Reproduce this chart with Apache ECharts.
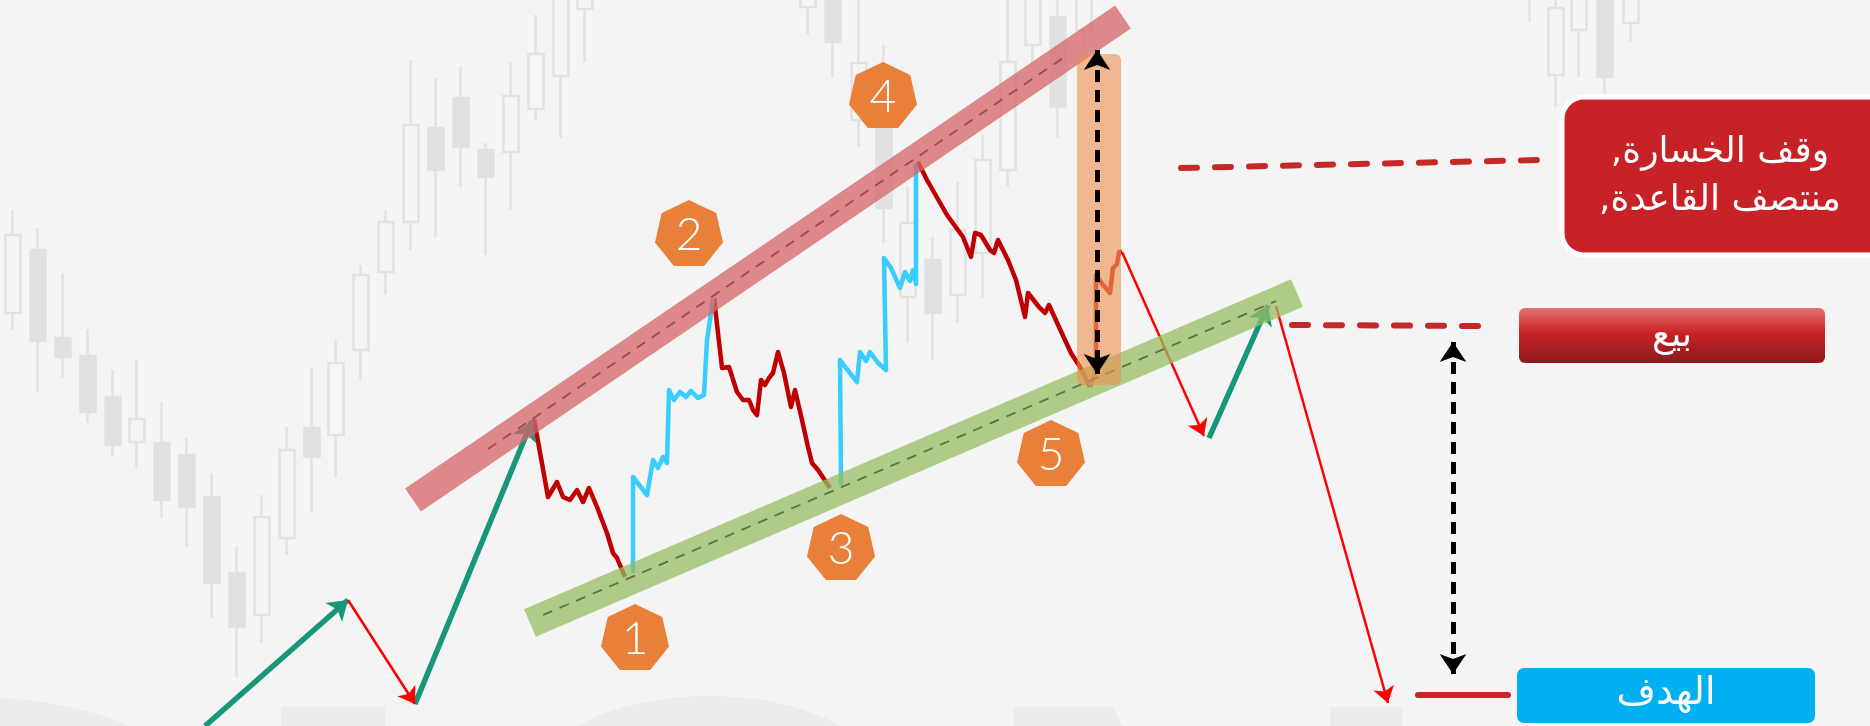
<!DOCTYPE html>
<html>
<head>
<meta charset="utf-8">
<title>نموذج القاعدة المتسعة</title>
<script src="https://cdn.jsdelivr.net/npm/echarts@6/dist/echarts.min.js"></script>
<style>
html, body { margin: 0; padding: 0; background: #f4f4f4; }
#chart { width: 1870px; height: 726px; }
</style>
</head>
<body>
<div id="chart"></div>
<script>
// شموع الخلفية: [x, open, close, low, high] (المحور الرأسي معكوس)
var bgCandles = [
    [13, 313, 235, 210, 330], [38, 250, 341, 228, 392], [63, 338, 357, 273, 378],
    [88, 356, 412, 329, 423], [113, 397, 445, 370, 456], [137, 442, 419, 360, 468],
    [162, 443, 500, 402, 518], [187, 455, 507, 438, 547], [212, 497, 583, 473, 618],
    [237, 573, 627, 547, 677], [262, 615, 517, 495, 643], [287, 538, 450, 427, 555],
    [312, 428, 457, 368, 512], [336, 435, 363, 340, 477], [361, 350, 275, 265, 380],
    [386, 272, 222, 210, 295], [411, 222, 125, 60, 250], [436, 128, 170, 78, 237],
    [461, 98, 147, 67, 187], [486, 150, 177, 143, 255], [511, 152, 96, 62, 210],
    [536, 109, 54, 15, 120], [561, 76, -10, -20, 138], [585, 9, -10, -20, 62],
    [808, 7, -10, -20, 35], [833, -10, 42, -20, 77], [859, 120, 63, -20, 147],
    [884, 127, 208, 45, 243], [908, 297, 223, 187, 343], [933, 260, 313, 237, 360],
    [958, 295, 230, 182, 323], [983, 253, 160, 135, 297], [1008, 170, 62, -20, 187],
    [1033, 45, -10, -20, 62], [1058, 17, 107, -20, 137], [1084, 30, -10, -20, 45],
    [1530, -5, -15, -20, 22], [1556, 75, 8, -20, 107], [1579, 30, -10, -20, 77],
    [1605, -10, 77, -20, 93], [1631, 23, -10, -20, 42]
];

// موجات النموذج
var waveDown1 = [[534, 419], [548, 497], [557, 482], [563, 497], [570, 500], [577, 490], [583, 502], [589, 488], [597, 507], [607, 533], [613, 553], [617, 558], [625, 577]];
var waveUp1 = [[633, 573], [633, 477], [647, 495], [653, 460], [658, 468], [663, 457], [667, 463], [669, 390], [674, 400], [680, 392], [686, 397], [691, 391], [698, 398], [704, 395], [707, 340], [710, 320], [713, 298]];
var waveDown2 = [[714, 298], [722, 368], [729, 367], [737, 392], [743, 400], [749, 400], [753, 410], [757, 415], [761, 380], [765, 385], [769, 378], [773, 373], [778, 352], [784, 373], [791, 407], [795, 390], [802, 420], [808, 447], [812, 463], [818, 470], [830, 488]];
var waveUp2 = [[841, 485], [840, 360], [846, 368], [857, 382], [860, 352], [866, 361], [870, 352], [878, 363], [886, 370], [884, 258], [891, 268], [900, 288], [905, 272], [910, 281], [913, 270], [916, 284], [916, 164]];
var waveDown3 = [[918, 162], [927, 180], [947, 215], [963, 237], [971, 257], [975, 233], [981, 235], [990, 250], [994, 253], [998, 240], [1008, 260], [1016, 280], [1025, 317], [1028, 293], [1039, 307], [1045, 313], [1049, 305], [1059, 327], [1071, 353], [1080, 367], [1090, 387]];
var waveRetest = [[1090, 387], [1096, 370], [1096, 275], [1103, 285], [1110, 293], [1113, 268], [1117, 264], [1119, 252], [1122, 252]];

// أسهم الاتجاه
var tealLegs = [
    [[205, 726], [348, 600]],
    [[415, 704], [532, 421]],
    [[1209, 438], [1268, 305]]
];
var redLegs = [
    [[348, 600], [415, 704]],
    [[1122, 252], [1204, 436]],
    [[1276, 306], [1388, 703]]
];

// خطوط القناة
var upperBand = [[413, 500], [1123, 17]];
var upperMid = [[488, 449], [1066, 56]];
var lowerBand = [[530, 623], [1297, 293]];
var lowerMid = [[543, 615], [1276, 301]];

// منطقة وقف الخسارة والأسهم المزدوجة
var stopZone = [1077, 54, 1121, 385];
var rangeArrows = [
    [[1097, 50], [1097, 374]],
    [[1453, 342], [1453, 674]]
];

// المستويات
var stopLevel = [[1181, 168], [1538, 160]];
var sellLevel = [[1292, 325], [1482, 326]];
var targetLevel = [[1418, 695], [1508, 695]];

// نقاط الملامسة
var touchPoints = [
    [635, 637, '1'], [689, 233, '2'], [841, 547, '3'], [883, 95, '4'], [1051, 453, '5']
];

function heptagonPath() {
    var parts = [];
    for (var k = 0; k < 7; k++) {
        var a = k * 2 * Math.PI / 7;
        parts.push((k === 0 ? 'M' : 'L') + (Math.sin(a) * 100).toFixed(2) + ' ' + (-Math.cos(a) * 100).toFixed(2));
    }
    return 'path://' + parts.join(' ') + ' Z';
}

function segs(list) {
    return list.map(function (c) { return { coords: c }; });
}

var chart = echarts.init(document.getElementById('chart'));

var option = {
    backgroundColor: '#f4f4f4',
    animation: false,
    grid: { left: 0, right: 0, top: 0, bottom: 0 },
    xAxis: { type: 'value', min: 0, max: 1870, show: false },
    yAxis: { type: 'value', min: 0, max: 726, inverse: true, show: false },
    graphic: [
        // علامة مائية باهتة أسفل الصورة
        { type: 'ellipse', z: -10, silent: true, shape: { cx: -30, cy: 800, rx: 230, ry: 103 }, style: { fill: '#ebebeb' } },
        { type: 'rect', z: -10, silent: true, shape: { x: 281, y: 707, width: 104, height: 25 }, style: { fill: '#ebebeb' } },
        { type: 'ellipse', z: -10, silent: true, shape: { cx: 709, cy: 800, rx: 188, ry: 104 }, style: { fill: '#ebebeb' } },
        { type: 'polygon', z: -10, silent: true, shape: { points: [[1014, 707], [1112, 707], [1125, 730], [1014, 730]] }, style: { fill: '#ebebeb' } },
        { type: 'rect', z: -10, silent: true, shape: { x: 1330, y: 707, width: 72, height: 25 }, style: { fill: '#ebebeb' } },

        // صندوق وقف الخسارة
        {
            type: 'rect', z: 100, shape: { x: 1562, y: 97, width: 330, height: 158, r: 22 },
            style: { fill: '#c62228', stroke: '#ffffff', lineWidth: 5 }
        },
        {
            type: 'text', z: 101, x: 1720, y: 177,
            style: {
                text: 'وقف الخسارة,\u200F\nمنتصف القاعدة,\u200F', fill: '#ffffff',
                font: '36px "DejaVu Sans"', align: 'center', verticalAlign: 'middle', lineHeight: 48
            }
        },
        // صندوق البيع
        {
            type: 'rect', z: 100, shape: { x: 1519, y: 308, width: 306, height: 55, r: 6 },
            style: {
                fill: new echarts.graphic.LinearGradient(0, 0, 0, 1, [
                    { offset: 0, color: '#e47272' },
                    { offset: 0.45, color: '#c82326' },
                    { offset: 1, color: '#8c1a1c' }
                ])
            }
        },
        {
            type: 'text', z: 101, x: 1672, y: 337,
            style: { text: 'بيع', fill: '#ffffff', font: '36px "DejaVu Sans"', align: 'center', verticalAlign: 'middle' }
        },
        // صندوق الهدف
        {
            type: 'rect', z: 100, shape: { x: 1517, y: 668, width: 298, height: 55, r: 7 },
            style: { fill: '#00b0f0' }
        },
        {
            type: 'text', z: 101, x: 1666, y: 694,
            style: { text: 'الهدف', fill: '#ffffff', font: '38px "DejaVu Sans"', align: 'center', verticalAlign: 'middle' }
        }
    ],
    series: [
        {
            type: 'candlestick', z: 1, silent: true,
            data: bgCandles,
            encode: { x: 0, y: [1, 2, 3, 4] },
            barWidth: 16,
            itemStyle: { color: '#e1e1e1', color0: '#f4f4f4', borderColor: '#e1e1e1', borderColor0: '#e1e1e1', borderWidth: 2.5 }
        },
        // الموجات الهابطة
        {
            type: 'lines', coordinateSystem: 'cartesian2d', polyline: true, z: 3, silent: true,
            lineStyle: { color: '#c00000', width: 4.5, opacity: 1, join: 'round' },
            data: segs([waveDown1, waveDown2, waveDown3])
        },
        {
            type: 'lines', coordinateSystem: 'cartesian2d', polyline: true, z: 3, silent: true,
            lineStyle: { color: '#d02818', width: 4.5, opacity: 1, join: 'round' },
            data: segs([waveRetest])
        },
        // الموجات الصاعدة
        {
            type: 'lines', coordinateSystem: 'cartesian2d', polyline: true, z: 3, silent: true,
            lineStyle: { color: '#38ccff', width: 4.5, opacity: 1, join: 'round' },
            data: segs([waveUp1, waveUp2])
        },
        // أسهم الاتجاه
        {
            type: 'lines', coordinateSystem: 'cartesian2d', z: 3, silent: true,
            symbol: ['none', 'arrow'], symbolSize: [0, 19],
            lineStyle: { color: '#16967a', width: 5.5, opacity: 1 },
            data: segs(tealLegs)
        },
        {
            type: 'lines', coordinateSystem: 'cartesian2d', z: 3, silent: true,
            symbol: ['none', 'arrow'], symbolSize: [0, 16],
            lineStyle: { color: '#ff0000', width: 2.5, opacity: 1 },
            data: segs(redLegs)
        },
        // نقاط الملامسة
        {
            type: 'scatter', z: 4, silent: true,
            data: touchPoints,
            symbol: heptagonPath(), symbolSize: [68, 66],
            itemStyle: { color: '#e8803a', opacity: 1 },
            label: {
                show: true, position: 'inside', formatter: function (p) { return p.value[2]; },
                color: '#ffffff', fontSize: 46, fontFamily: 'Lato', fontWeight: 300, offset: [0, 2]
            }
        },
        // القناة
        {
            type: 'lines', coordinateSystem: 'cartesian2d', z: 5, silent: true,
            lineStyle: { color: 'rgba(214,100,104,0.75)', width: 28, opacity: 1, cap: 'butt' },
            data: segs([upperBand])
        },
        {
            type: 'lines', coordinateSystem: 'cartesian2d', z: 5, silent: true,
            lineStyle: { color: 'rgba(152,190,100,0.75)', width: 30, opacity: 1, cap: 'butt' },
            data: segs([lowerBand])
        },
        {
            type: 'lines', coordinateSystem: 'cartesian2d', z: 6, silent: true,
            lineStyle: { color: '#9b4c4c', width: 1.8, opacity: 1, type: [10, 8] },
            data: segs([upperMid])
        },
        {
            type: 'lines', coordinateSystem: 'cartesian2d', z: 6, silent: true,
            lineStyle: { color: '#627044', width: 1.8, opacity: 1, type: [10, 8] },
            data: segs([lowerMid])
        },
        // منطقة وقف الخسارة
        {
            type: 'custom', z: 7, silent: true,
            data: [stopZone],
            encode: { x: [0, 2], y: [1, 3] },
            renderItem: function (params, api) {
                var p1 = api.coord([api.value(0), api.value(1)]);
                var p2 = api.coord([api.value(2), api.value(3)]);
                return {
                    type: 'rect',
                    shape: { x: p1[0], y: p1[1], width: p2[0] - p1[0], height: p2[1] - p1[1], r: 6 },
                    style: { fill: 'rgba(237,144,77,0.6)' }
                };
            }
        },
        // المستويات
        {
            type: 'lines', coordinateSystem: 'cartesian2d', z: 8, silent: true,
            lineStyle: { color: '#c62828', width: 6, opacity: 1, type: [16, 18], cap: 'round' },
            data: segs([stopLevel, sellLevel])
        },
        {
            type: 'lines', coordinateSystem: 'cartesian2d', z: 8, silent: true,
            lineStyle: { color: '#c62828', width: 6, opacity: 1, cap: 'round' },
            data: segs([targetLevel])
        },
        // أسهم المسافة
        {
            type: 'lines', coordinateSystem: 'cartesian2d', z: 9, silent: true,
            symbol: ['arrow', 'arrow'], symbolSize: 20,
            lineStyle: { color: '#000000', width: 5, opacity: 1, type: [12, 8] },
            data: segs(rangeArrows)
        }
    ]
};

chart.setOption(option);
</script>
</body>
</html>
